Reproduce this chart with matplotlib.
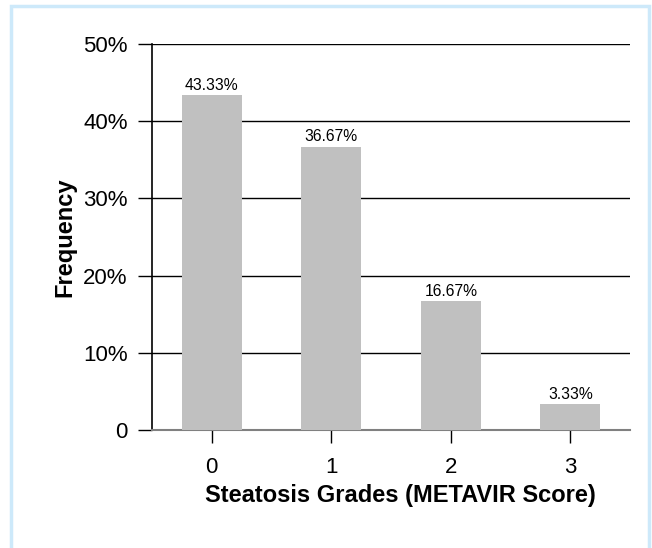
import matplotlib
matplotlib.use("Agg")
import matplotlib.pyplot as plt
from matplotlib.patches import Rectangle

plt.rcParams["font.family"] = ["Liberation Sans", "DejaVu Sans"]

grades = ["0", "1", "2", "3"]
frequency = [43.33, 36.67, 16.67, 3.33]
y_ticks = [0, 10, 20, 30, 40, 50]
y_tick_labels = ["0", "10%", "20%", "30%", "40%", "50%"]

fig = plt.figure(figsize=(6.52, 5.48), dpi=100)
fig.patch.set_facecolor("white")

# light blue frame around the whole panel
fig.patches.append(Rectangle((11 / 652, -0.05), 638 / 652, 1.05 - 5.5 / 548,
                             transform=fig.transFigure, fill=False,
                             edgecolor="#cde9fa", linewidth=2.5))

ax = fig.add_axes([152 / 652, 118 / 548, 478 / 652, 386 / 548])
x = list(range(len(grades)))
ax.bar(x, frequency, width=0.5, color="#c0c0c0", zorder=3)

for xi, v in zip(x, frequency):
    ax.annotate(f"{v:.2f}%", (xi, v), xytext=(0, 1.8), textcoords="offset points",
                ha="center", va="bottom", fontsize=11.3)

ax.set_xlim(-0.5, 3.5)
ax.set_ylim(0, 50)
ax.set_yticks(y_ticks)
ax.set_yticklabels(y_tick_labels)
ax.set_xticks(x)
ax.set_xticklabels(grades)
ax.yaxis.grid(True, color="black", linewidth=1, zorder=0)
ax.set_axisbelow(True)

for side in ["top", "right"]:
    ax.spines[side].set_visible(False)
ax.spines["left"].set_color("black")
ax.spines["left"].set_linewidth(1.2)
ax.spines["bottom"].set_color("#808080")
ax.spines["bottom"].set_linewidth(1.5)

ax.tick_params(axis="y", length=10, width=1, color="black", labelsize=16, pad=7.5)
ax.tick_params(axis="x", length=9.5, width=1, color="black", labelsize=16, pad=10)

ax.set_ylabel("Frequency", fontsize=17, fontweight="bold", labelpad=4.5)
ax.set_xlabel("Steatosis Grades (METAVIR Score)", fontsize=17, fontweight="bold", labelpad=4.5)
ax.xaxis.label.set_x(0.52)

fig.savefig("out.png", dpi=100)
